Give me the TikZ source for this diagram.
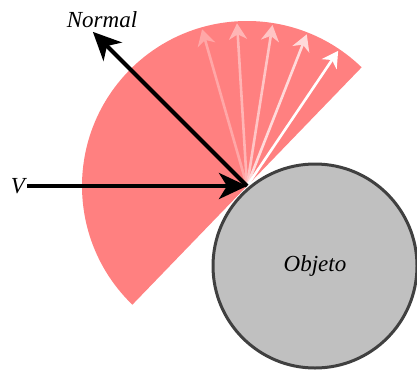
\documentclass[tikz,border=0pt]{standalone}
\usepackage{fontspec}
\setmainfont{Liberation Serif}
\usepackage{tikz}
\usetikzlibrary{arrows.meta, positioning, calc}
\definecolor{lobulo}{HTML}{FF8080}
\definecolor{objfill}{HTML}{C0C0C0}
\definecolor{objedge}{HTML}{404040}
\tikzset{
  sector/.style={fill=lobulo},
  objeto/.style={circle, draw=objedge, fill=objfill, line width=1.5pt, minimum size=102pt, inner sep=0pt},
  vector/.style={-{Stealth[length=14pt, width=13pt, inset=4pt]}, line width=2pt, draw=black},
  reflejo/.style={-{Stealth[length=8pt, width=9pt, inset=2.5pt]}, line width=1.3pt},
  etiqueta/.style={font=\fontsize{11.5}{13}\selectfont\itshape, inner sep=1pt}
}

\begin{document}
\begin{tikzpicture}[x=0.5pt, y=0.5pt]
  \useasboundingbox (0,0) rectangle (417,371);

  \coordinate (P) at (247,185);

  % lobulo de reflexion
  \fill[sector] (P) -- ++(46:165) arc[start angle=46, end angle=226, radius=165] -- cycle;

  \foreach \ang/\mix in {106/31, 93.5/42, 81/54, 68.5/71, 56/100}
    \draw[reflejo, draw=white!\mix!lobulo, fill=white!\mix!lobulo] (P) -- ++(\ang:163);

  \node[objeto] (obj) at (315,105) {};
  \node[etiqueta] at (obj.center) {Objeto};

  \coordinate (N) at ($(P)+(135:218)$);
  \draw[vector] (P) -- (N);
  \node[etiqueta, anchor=south] (normal) at (102,341) {Normal};

  \node[etiqueta] (v) at (18,185) {V};
  \draw[vector] (v.east) -- (P);
\end{tikzpicture}
\end{document}
